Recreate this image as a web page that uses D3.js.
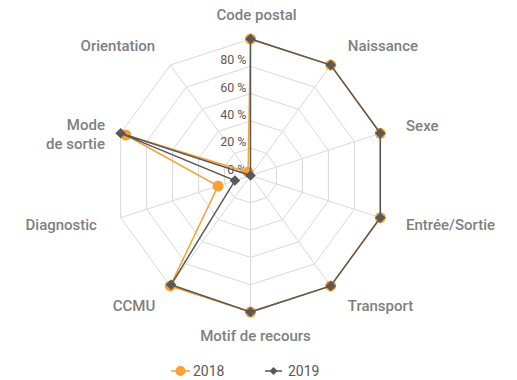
<!DOCTYPE html>
<html>
<head>
<meta charset="utf-8">
<script src="https://cdn.jsdelivr.net/npm/d3@7"></script>
<style>
  body { margin: 0; background: #fff; }
  text { font-family: Roboto, "Open Sans", sans-serif; }
</style>
</head>
<body>
<div id="chart"></div>
<script>
// axes, clockwise from the top
var axes = ["Code postal", "Naissance", "Sexe", "Entrée/Sortie", "Transport",
            "Motif de recours", "CCMU", "Diagnostic", "Mode\nde sortie", "Orientation"];
var values2018 = [100, 100, 100, 100, 100, 100, 100, 25, 96, 3];
var values2019 = [100, 100, 100, 100, 100, 100, 99, 12, 100, 0];
var ticks = [0, 20, 40, 60, 80, 100];
var tickLabels = ["0 %", "20 %", "40 %", "60 %", "80 %"];
var seriesNames = ["2018", "2019"];

var width = 517, height = 380;
var cx = 250.5, cy = 175.5, radius = 136.5;
var orange = "#F7A133", grey = "#595959";

var svg = d3.select("#chart").append("svg")
    .attr("width", width)
    .attr("height", height);

var r = d3.scaleLinear().domain([0, 100]).range([0, radius]);
var angle = d3.scaleLinear().domain([0, axes.length]).range([0, 2 * Math.PI]);

function pt(i, v) {
    var a = angle(i);
    return [cx + r(v) * Math.sin(a), cy - r(v) * Math.cos(a)];
}

var g = svg.append("g");

// rings
ticks.slice(1).forEach(function(t) {
    g.append("path")
        .attr("d", d3.line()(axes.map(function(d, i) { return pt(i, t); })) + "Z")
        .style("fill", "none")
        .style("stroke", "#d9d9d9")
        .style("stroke-width", 1);
});

// spokes
g.selectAll("line.spoke")
    .data(axes)
    .enter()
    .append("line")
    .attr("x1", cx).attr("y1", cy)
    .attr("x2", function(d, i) { return pt(i, 100)[0]; })
    .attr("y2", function(d, i) { return pt(i, 100)[1]; })
    .style("stroke", "#d9d9d9")
    .style("stroke-width", 1);

// tick labels
g.selectAll("text.tick")
    .data(tickLabels)
    .enter()
    .append("text")
    .attr("x", cx - 4)
    .attr("y", function(d, i) { return cy - r(ticks[i]) - 2; })
    .attr("text-anchor", "end")
    .style("font-size", "12.5px")
    .style("fill", "#595959")
    .text(function(d) { return d; });

// axis labels
var labelShift = {"Mode\nde sortie": [8, 8], "Code postal": [6, 0], "Motif de recours": [5, 0]};
axes.forEach(function(d, i) {
    var p = pt(i, 117.5);
    var s = Math.sin(angle(i));
    var anchor = Math.abs(s) < 0.1 ? "middle" : (s > 0 ? "start" : "end");
    var sh = labelShift[d] || [0, 0];
    var lines = d.split("\n");
    var x = p[0] + (anchor === "start" ? 3 : (anchor === "end" ? -1 : 0)) + sh[0];
    var y = p[1] + sh[1] - (lines.length - 1) * 9.5;
    var t = g.append("text")
        .attr("text-anchor", anchor)
        .style("font-size", "15px")
        .style("font-weight", 500)
        .style("fill", "#808080");
    lines.forEach(function(l, k) {
        t.append("tspan")
            .attr("x", x)
            .attr("y", y + k * 19)
            .attr("dy", "0.35em")
            .text(l);
    });
});

var line = d3.line()
    .x(function(d) { return d[0]; })
    .y(function(d) { return d[1]; });

function drawSeries(vals, color, marker) {
    var pts = vals.map(function(v, i) { return pt(i, v); });
    g.append("path")
        .attr("d", line(pts) + "Z")
        .style("fill", "none")
        .style("stroke", color)
        .style("stroke-width", 1.5);
    if (marker === "circle") {
        g.selectAll(null)
            .data(pts)
            .enter()
            .append("circle")
            .attr("cx", function(d) { return d[0]; })
            .attr("cy", function(d) { return d[1]; })
            .attr("r", 5.5)
            .style("fill", color);
    } else {
        g.selectAll(null)
            .data(pts)
            .enter()
            .append("path")
            .attr("d", d3.symbol().type(d3.symbolSquare).size(56))
            .attr("transform", function(d) { return "translate(" + d[0] + "," + d[1] + ") rotate(45)"; })
            .style("fill", color);
    }
}

drawSeries(values2018, orange, "circle");
drawSeries(values2019, grey, "diamond");

// legend
var legend = svg.append("g").attr("transform", "translate(0,371)");
var legendItems = [
    {name: seriesNames[0], color: orange, marker: "circle", x0: 171, x1: 190, tx: 193},
    {name: seriesNames[1], color: grey, marker: "diamond", x0: 265, x1: 282, tx: 288}
];
legendItems.forEach(function(d) {
    legend.append("line")
        .attr("x1", d.x0).attr("x2", d.x1)
        .style("stroke", d.color)
        .style("stroke-width", 1.5);
    var mx = (d.x0 + d.x1) / 2;
    if (d.marker === "circle") {
        legend.append("circle").attr("cx", mx).attr("r", 5).style("fill", d.color);
    } else {
        legend.append("path")
            .attr("d", d3.symbol().type(d3.symbolSquare).size(32))
            .attr("transform", "translate(" + mx + ",0) rotate(45)")
            .style("fill", d.color);
    }
    legend.append("text")
        .attr("x", d.tx)
        .attr("dy", "0.35em")
        .style("font-size", "14px")
        .style("fill", "#595959")
        .text(d.name);
});
</script>
</body>
</html>
